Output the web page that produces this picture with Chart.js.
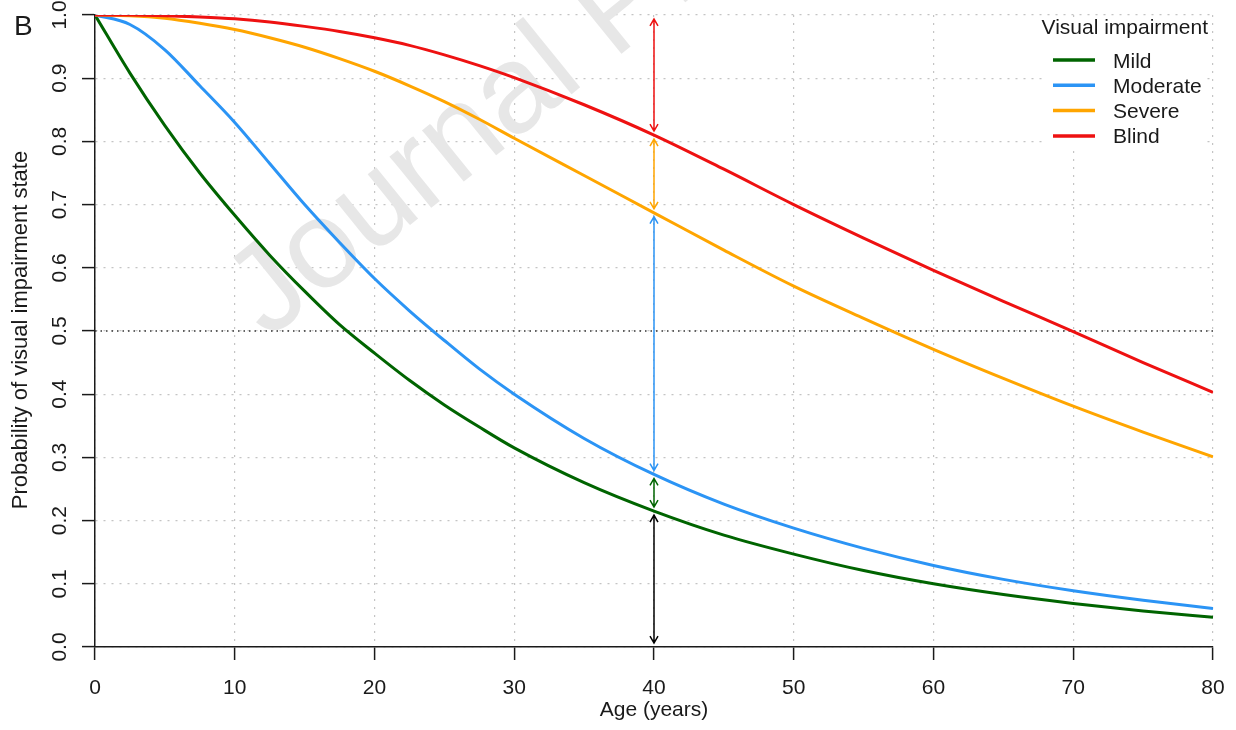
<!DOCTYPE html>
<html>
<head>
<meta charset="utf-8">
<title>Probability of visual impairment state by age</title>
<script src="https://cdn.jsdelivr.net/npm/chart.js@4.4.1/dist/chart.umd.min.js"></script>
<style>
  html, body { margin: 0; padding: 0; background: #fff; }
  #wrap { width: 1236px; height: 730px; position: relative; }
</style>
</head>
<body>
<div id="wrap"><canvas id="chart"></canvas></div>
<script>
const ages = [0, 2.5, 5, 7.5, 10, 12.5, 15, 17.5, 20, 22.5, 25, 27.5, 30, 35, 40, 45, 50, 55, 60, 65, 70, 75, 80];

// Probability of being in each visual impairment state
const mild     = [1.0, 0.908, 0.825, 0.75, 0.683, 0.62, 0.563, 0.51, 0.465, 0.422, 0.383, 0.348, 0.315, 0.26, 0.215, 0.177, 0.147, 0.121, 0.100, 0.083, 0.069, 0.057, 0.047];
const moderate = [1.0, 0.985, 0.945, 0.888, 0.83, 0.765, 0.70, 0.64, 0.583, 0.532, 0.485, 0.44, 0.40, 0.33, 0.273, 0.226, 0.188, 0.156, 0.129, 0.107, 0.089, 0.074, 0.061];
const severe   = [1.0, 0.999, 0.995, 0.987, 0.977, 0.964, 0.949, 0.931, 0.911, 0.888, 0.863, 0.835, 0.805, 0.746, 0.687, 0.628, 0.571, 0.52, 0.471, 0.425, 0.381, 0.34, 0.301];
const blind    = [1.0, 1.0, 0.999, 0.997, 0.994, 0.989, 0.982, 0.974, 0.964, 0.952, 0.937, 0.92, 0.901, 0.858, 0.81, 0.756, 0.70, 0.647, 0.596, 0.547, 0.499, 0.45, 0.403];

const seriesNames  = ['Mild', 'Moderate', 'Severe', 'Blind'];
const seriesValues = [mild, moderate, severe, blind];
const seriesColors = ['#006400', '#2b94f5', '#ffa500', '#ee1111'];

const xTicks = [0, 10, 20, 30, 40, 50, 60, 70, 80];
const yTicks = [0, 0.1, 0.2, 0.3, 0.4, 0.5, 0.6, 0.7, 0.8, 0.9, 1.0];
const yTickLabels = ['0.0', '0.1', '0.2', '0.3', '0.4', '0.5', '0.6', '0.7', '0.8', '0.9', '1.0'];

// Double headed arrows at age 40, listed bottom to top
const arrowAge = 40;
const arrowBounds = [0, 0.215, 0.273, 0.687, 0.81, 1.0];
const arrowColors = ['#000000', '#006400', '#2b94f5', '#ffa500', '#ee1111'];

const refLine = 0.5;

const FONT = '"Liberation Sans", Arial, Helvetica, sans-serif';
const INK = '#1a1a1a';
const GRID = '#c4c4c4';

Chart.defaults.font.family = FONT;
Chart.defaults.color = INK;

function drawArrow(ctx, x, yTop, yBot, color) {
    const len = 8, ang = Math.PI / 6;
    const dx = len * Math.sin(ang), dy = len * Math.cos(ang);
    ctx.save();
    ctx.strokeStyle = color;
    ctx.lineWidth = 1.5;
    ctx.beginPath();
    ctx.moveTo(x, yTop);
    ctx.lineTo(x, yBot);
    // head at the top
    ctx.moveTo(x - dx, yTop + dy);
    ctx.lineTo(x, yTop);
    ctx.lineTo(x + dx, yTop + dy);
    // head at the bottom
    ctx.moveTo(x - dx, yBot - dy);
    ctx.lineTo(x, yBot);
    ctx.lineTo(x + dx, yBot - dy);
    ctx.stroke();
    ctx.restore();
}

const decorations = {
    id: 'decorations',
    beforeDatasetsDraw(chart) {
        const { ctx, chartArea, scales: { y } } = chart;

        // faint "Journal Pre-proof" watermark
        ctx.save();
        ctx.translate(268, 340);
        ctx.rotate(-39 * Math.PI / 180);
        ctx.font = `125px ${FONT}`;
        ctx.fillStyle = '#e7e7e7';
        ctx.fillText('Journal Pre-proof', 0, 0);
        ctx.restore();

        // dotted reference line at 0.5
        const yr = y.getPixelForValue(refLine);
        ctx.save();
        ctx.strokeStyle = '#333';
        ctx.lineWidth = 1.5;
        ctx.setLineDash([1.5, 4]);
        ctx.beginPath();
        ctx.moveTo(chartArea.left, yr);
        ctx.lineTo(chartArea.right, yr);
        ctx.stroke();
        ctx.restore();
    },
    afterDatasetsDraw(chart) {
        const { ctx, scales: { x, y } } = chart;
        const ax = x.getPixelForValue(arrowAge);
        const gap = 4;
        for (let i = 0; i < arrowColors.length; i++) {
            const yBot = y.getPixelForValue(arrowBounds[i]) - gap;
            const yTop = y.getPixelForValue(arrowBounds[i + 1]) + gap;
            drawArrow(ctx, ax, yTop, yBot, arrowColors[i]);
        }
    },
    afterDraw(chart) {
        const { ctx, chartArea, scales: { y } } = chart;
        ctx.save();
        ctx.fillStyle = INK;

        // y tick labels, turned like R draws them
        ctx.font = `21px ${FONT}`;
        ctx.textAlign = 'center';
        ctx.textBaseline = 'alphabetic';
        yTicks.forEach((v, i) => {
            ctx.save();
            ctx.translate(65.5, y.getPixelForValue(v));
            ctx.rotate(-Math.PI / 2);
            ctx.fillText(yTickLabels[i], 0, 0);
            ctx.restore();
        });

        // y axis title
        ctx.save();
        ctx.font = `22px ${FONT}`;
        ctx.translate(27, (chartArea.top + chartArea.bottom) / 2 - 1);
        ctx.rotate(-Math.PI / 2);
        ctx.fillText('Probability of visual impairment state', 0, 0);
        ctx.restore();

        // panel letter
        ctx.textAlign = 'left';
        ctx.font = `28px ${FONT}`;
        ctx.fillText('B', 14, 35);

        // legend
        ctx.fillStyle = '#fff';
        ctx.fillRect(1045, 18, 160, 129);
        ctx.fillStyle = INK;
        ctx.font = `21px ${FONT}`;
        ctx.fillText('Visual impairment', 1041.5, 33.5);
        seriesNames.forEach((name, i) => {
            const ly = 60 + i * 25.3;
            ctx.strokeStyle = seriesColors[i];
            ctx.lineWidth = 3.5;
            ctx.beginPath();
            ctx.moveTo(1053, ly);
            ctx.lineTo(1095, ly);
            ctx.stroke();
            ctx.fillText(name, 1113, ly + 7.5);
        });
        ctx.restore();
    }
};

new Chart(document.getElementById('chart'), {
    type: 'line',
    data: {
        datasets: seriesNames.map((name, i) => ({
            label: name,
            data: ages.map((a, j) => ({ x: a, y: seriesValues[i][j] })),
            borderColor: seriesColors[i],
            borderWidth: 3,
            pointRadius: 0,
            fill: false,
            cubicInterpolationMode: 'monotone',
            order: seriesNames.length - i
        }))
    },
    options: {
        responsive: true,
        maintainAspectRatio: false,
        animation: false,
        events: [],
        layout: { padding: { top: 15, right: 23, left: 0, bottom: 0 } },
        plugins: { legend: { display: false }, tooltip: { enabled: false } },
        scales: {
            x: {
                type: 'linear',
                min: 0,
                max: 80,
                afterBuildTicks: s => { s.ticks = xTicks.map(v => ({ value: v })); },
                afterFit: s => { s.height = 83; s.paddingLeft = 0; s.paddingRight = 0; },
                ticks: { color: INK, font: { size: 21 }, padding: 16, maxRotation: 0, callback: v => String(v) },
                grid: { color: GRID, lineWidth: 1.2, tickLength: 13, tickColor: INK, tickWidth: 1.5 },
                border: { display: true, color: INK, width: 1.5, dash: [2, 6] },
                title: { display: true, text: 'Age (years)', color: INK, font: { size: 21 }, padding: { top: 0, bottom: 7 } }
            },
            y: {
                min: 0,
                max: 1,
                afterBuildTicks: s => { s.ticks = yTicks.map(v => ({ value: v })); },
                afterFit: s => { s.width = 95; s.paddingTop = 0; s.paddingBottom = 0; },
                ticks: { display: false },
                grid: { color: GRID, lineWidth: 1.2, tickLength: 13, tickColor: INK, tickWidth: 1.5 },
                border: { display: true, color: INK, width: 1.5, dash: [2, 6] }
            }
        }
    },
    plugins: [decorations]
});
</script>
</body>
</html>
